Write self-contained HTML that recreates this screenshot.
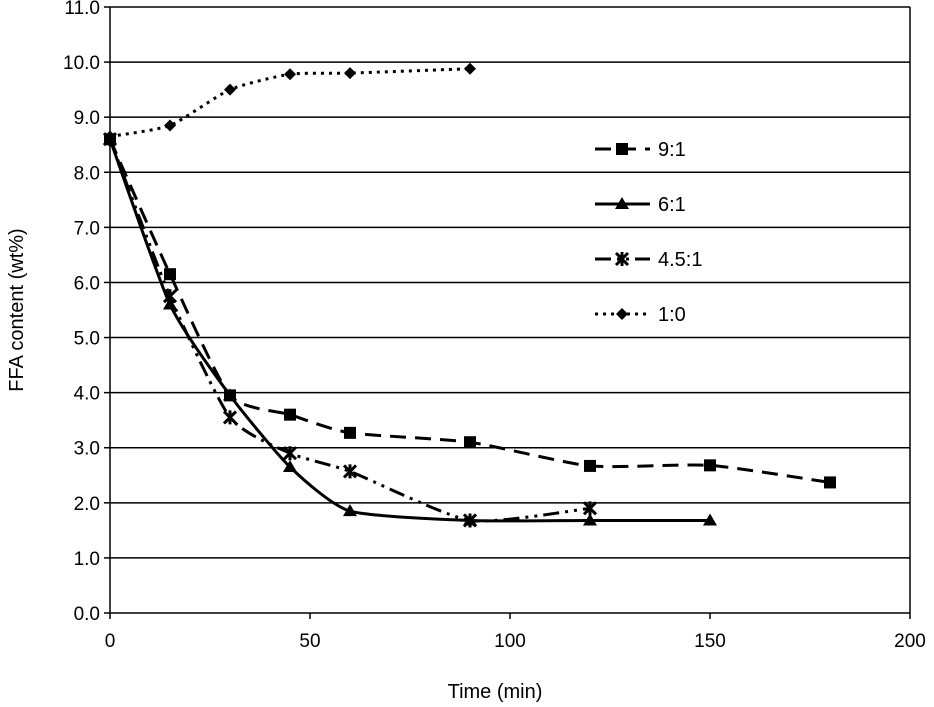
<!DOCTYPE html>
<html><head><meta charset="utf-8"><style>
html,body{margin:0;padding:0;background:#fff;}
svg{display:block;font-family:"Liberation Sans",sans-serif;}
</style></head><body>
<svg id="chart" width="934" height="707" viewBox="0 0 934 707"></svg>
<script>
const xTicks=[0,50,100,150,200];
const yTicks=[0,1,2,3,4,5,6,7,8,9,10,11];
const seriesNames=["9:1","6:1","4.5:1","1:0"];
const t91=[0,15,30,45,60,90,120,150,180];
const v91=[8.6,6.15,3.95,3.6,3.27,3.1,2.67,2.68,2.37];
const t61=[0,15,30,45,60,90,120,150];
const v61=[8.6,5.6,3.95,2.65,1.85,1.68,1.68,1.68];
const t451=[0,15,30,45,60,90,120];
const v451=[8.6,5.75,3.55,2.9,2.57,1.68,1.9];
const t10=[0,15,30,45,60,90];
const v10=[8.65,8.85,9.5,9.78,9.8,9.88];

const NS="http://www.w3.org/2000/svg";
const svg=document.getElementById('chart');
const X0=110,X1=910,Y0=613,Y1=7;
const xs=v=>X0+(v-0)/(200-0)*(X1-X0);
const ys=v=>Y0-(v-0)/(11-0)*(Y0-Y1);
function mk(tag,attrs,parent){const e=document.createElementNS(NS,tag);for(const k in attrs)e.setAttribute(k,attrs[k]);(parent||svg).appendChild(e);return e;}

yTicks.forEach(v=>{
  const g=mk('line',{x1:X0,x2:X1,y1:ys(v),y2:ys(v),stroke:'#000','stroke-width':1.5});
  
  
  const tk=mk('line',{x1:X0-6,x2:X0,y1:ys(v),y2:ys(v),stroke:'#000','stroke-width':1.5});
  
  
  const t=mk('text',{x:X0-10,y:ys(v)+7,'text-anchor':'end','font-size':19});
  t.textContent=v.toFixed(1);
  
  
});
xTicks.forEach(v=>{
  const tk=mk('line',{x1:xs(v),x2:xs(v),y1:Y0,y2:Y0+6,stroke:'#000','stroke-width':1.5});
  
  
  const t=mk('text',{x:xs(v),y:Y0+34,'text-anchor':'middle','font-size':19});
  t.textContent=v;
  
  
});
const ax=mk('line',{x1:X0,x2:X0,y1:Y1,y2:Y0,stroke:'#000','stroke-width':1.5});


const rb=mk('line',{x1:X1,x2:X1,y1:Y1,y2:Y0,stroke:'#000','stroke-width':1.5});



const xt=mk('text',{x:495,y:698,'text-anchor':'middle','font-size':20});
xt.textContent='Time (min)';


const yt=mk('text',{x:0,y:0,'text-anchor':'middle','font-size':20,transform:'translate(23,310) rotate(-90)'});
yt.textContent='FFA content (wt%)';



function smooth(pts){
  let d='M'+pts[0][0]+','+pts[0][1];
  const k=10;
  for(let i=0;i<pts.length-1;i++){
    const p0=pts[i-1]||pts[i],p1=pts[i],p2=pts[i+1],p3=pts[i+2]||p2;
    const c1=[p1[0]+(p2[0]-p0[0])/k,p1[1]+(p2[1]-p0[1])/k];
    const c2=[p2[0]-(p3[0]-p1[0])/k,p2[1]-(p3[1]-p1[1])/k];
    d+=' C'+c1[0]+','+c1[1]+' '+c2[0]+','+c2[1]+' '+p2[0]+','+p2[1];
  }
  return d;
}
function marker(kind,x,y,g){
  if(kind==='sq') return mk('rect',{x:x-6,y:y-6,width:12,height:12,fill:'#000'},g);
  if(kind==='tri') return mk('polygon',{points:`${x},${y-7} ${x+7},${y+5} ${x-7},${y+5}`,fill:'#000'},g);
  if(kind==='star'){return mk('path',{d:`M${x-6},${y-6}L${x+6},${y+6}M${x+6},${y-6}L${x-6},${y+6}M${x},${y-7}L${x},${y+7}`,stroke:'#000','stroke-width':3},g);}
  return mk('polygon',{points:`${x},${y-6} ${x+6},${y} ${x},${y+6} ${x-6},${y}`,fill:'#000'},g);
}
const defs=[
 {t:t91,v:v91,dash:'16,9',w:3,m:'sq',name:'series-9-1',ly:149},
 {t:t61,v:v61,dash:'',w:3,m:'tri',name:'series-6-1',ly:204},
 {t:t451,v:v451,dash:'16,6,3,6,3,6',w:3,m:'star',name:'series-4-5-1',ly:259},
 {t:t10,v:v10,dash:'3,5',w:3,m:'dia',name:'series-1-0',ly:314}
];
defs.forEach((s,i)=>{
  const g=mk('g',{});
  
  
  const pts=s.t.map((t,j)=>[xs(t),ys(s.v[j])]);
  mk('path',{d:smooth(pts),fill:'none',stroke:'#000','stroke-width':s.w,'stroke-dasharray':s.dash},g);
  pts.forEach(p=>{const m=marker(s.m,p[0],p[1],g);
    
    });
  const lg=mk('g',{});
  
  
  mk('rect',{x:590,y:s.ly-18,width:100,height:36,fill:'#fff'},lg);
  mk('line',{x1:595,x2:650,y1:s.ly,y2:s.ly,stroke:'#000','stroke-width':s.w,'stroke-dasharray':s.dash},lg);
  marker(s.m,622,s.ly,lg);
  const tx=mk('text',{x:658,y:s.ly+7,'font-size':20},lg);
  tx.textContent=seriesNames[i];
});
</script>
</body></html>
